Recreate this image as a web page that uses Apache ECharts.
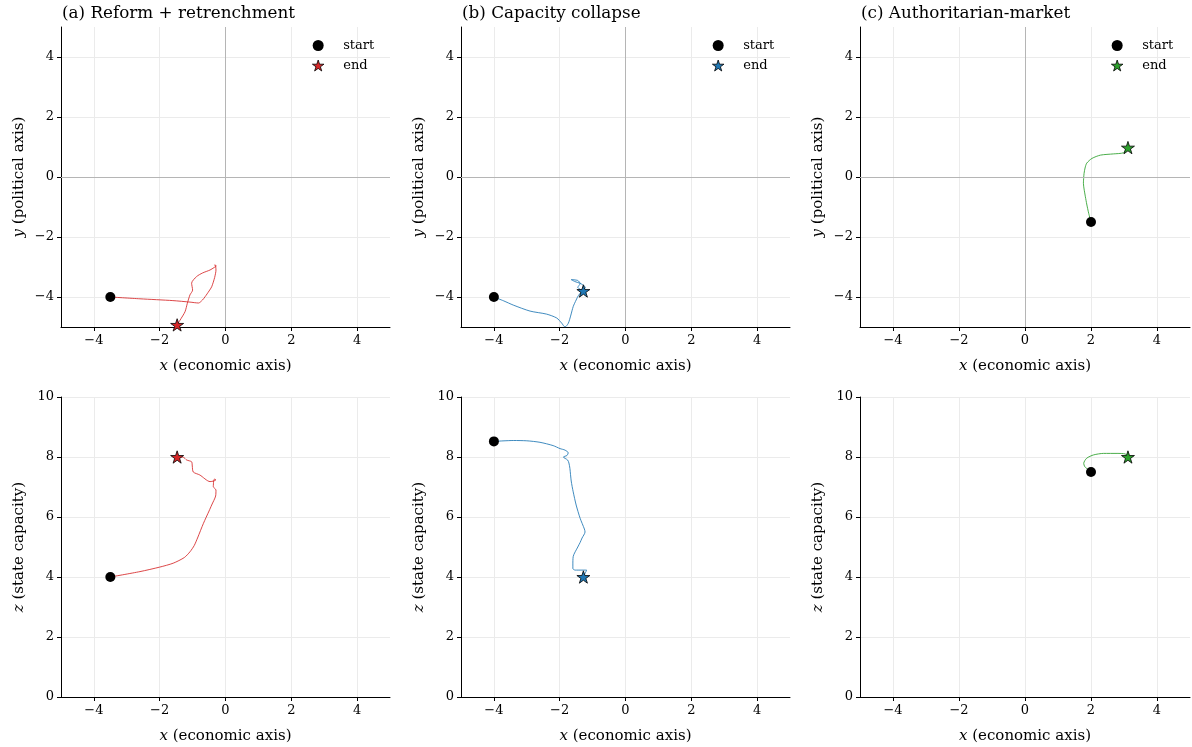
<!DOCTYPE html>
<html>
<head>
<meta charset="utf-8">
<script src="https://cdn.jsdelivr.net/npm/echarts@6/dist/echarts.min.js"></script>
<style>html,body{margin:0;padding:0;background:#fff}#c{width:1192px;height:747px}</style>
</head>
<body>
<div id="c"></div>
<script>
// ---------- data ----------
const panelTitles = ['(a) Reform + retrenchment', '(b) Capacity collapse', '(c) Authoritarian-market'];
const scenarioColors = ['#d62728', '#1f77b4', '#2ca02c'];
const xTicks = [-4, -2, 0, 2, 4];
const yTicks = [-4, -2, 0, 2, 4];
const zTicks = [0, 2, 4, 6, 8, 10];

// (a) Reform + retrenchment : [x, y] and [x, z]
const reformXY = [[-3.50,-4.00],[-2.60,-4.06],[-1.60,-4.12],[-1.08,-4.17],[-0.82,-4.20],[-0.70,-4.10],[-0.62,-3.99],[-0.50,-3.80],[-0.42,-3.66],[-0.33,-3.35],[-0.29,-3.10],[-0.30,-2.98],[-0.33,-2.93],[-0.28,-2.96],[-0.35,-3.02],[-0.47,-3.10],[-0.70,-3.20],[-0.88,-3.32],[-1.03,-3.54],[-1.00,-3.77],[-1.08,-3.93],[-1.16,-4.21],[-1.23,-4.49],[-1.38,-4.77],[-1.47,-4.93]];
const reformXZ = [[-3.50,4.00],[-2.60,4.18],[-2.00,4.33],[-1.59,4.46],[-1.25,4.65],[-1.08,4.84],[-0.95,5.05],[-0.85,5.30],[-0.67,5.79],[-0.50,6.20],[-0.42,6.40],[-0.30,6.70],[-0.29,6.90],[-0.37,7.01],[-0.36,7.20],[-0.34,7.26],[-0.29,7.24],[-0.36,7.20],[-0.47,7.18],[-0.78,7.40],[-0.98,7.50],[-1.01,7.70],[-1.03,7.84],[-1.18,7.90],[-1.28,7.99],[-1.47,8.00]];
// (b) Capacity collapse
const collapseXY = [[-4.00,-4.00],[-3.70,-4.13],[-3.41,-4.27],[-2.90,-4.47],[-2.40,-4.57],[-2.09,-4.70],[-1.94,-4.87],[-1.84,-5.00],[-1.74,-4.88],[-1.66,-4.60],[-1.59,-4.32],[-1.50,-4.10],[-1.43,-3.95],[-1.32,-3.80],[-1.22,-3.68],[-1.35,-3.56],[-1.55,-3.48],[-1.65,-3.42],[-1.45,-3.45],[-1.38,-3.55],[-1.45,-3.68],[-1.28,-3.80]];
const collapseXZ = [[-4.00,8.52],[-3.41,8.55],[-3.00,8.54],[-2.60,8.49],[-2.20,8.38],[-1.99,8.28],[-1.84,8.23],[-1.74,8.14],[-1.78,8.05],[-1.89,8.00],[-1.76,7.90],[-1.72,7.80],[-1.69,7.62],[-1.65,7.20],[-1.59,6.84],[-1.50,6.40],[-1.38,5.96],[-1.25,5.60],[-1.23,5.50],[-1.32,5.30],[-1.38,5.15],[-1.45,5.00],[-1.59,4.68],[-1.60,4.40],[-1.60,4.28],[-1.53,4.23],[-1.18,4.23],[-1.28,4.00]];
// (c) Authoritarian-market
const authXY = [[2.00,-1.50],[1.93,-1.21],[1.87,-0.90],[1.83,-0.66],[1.79,-0.40],[1.77,-0.21],[1.78,0.00],[1.79,0.12],[1.82,0.30],[1.87,0.46],[2.03,0.62],[2.29,0.73],[2.68,0.77],[2.99,0.81],[3.12,0.98]];
const authXZ = [[2.00,7.50],[1.81,7.68],[1.78,7.79],[1.87,7.96],[2.08,8.07],[2.38,8.12],[2.79,8.12],[3.04,8.10],[3.12,8.00]];

const topPaths = [reformXY, collapseXY, authXY];
const bottomPaths = [reformXZ, collapseXZ, authXZ];

// ---------- layout / style ----------
const FONT = 'DejaVu Serif';
const STAR = 'path://M0,-100L22.45,-30.9L95.1,-30.9L36.3,11.8L58.8,80.9L0,38.2L-58.8,80.9L-36.3,11.8L-95.1,-30.9L-22.45,-30.9Z';
const colLeft = [61, 461, 860];
const colWidth = [329, 329, 330];
const rowTop = [27, 397];
const rowHeight = 300;
const fmt = v => (v < 0 ? '\u2212' + Math.abs(v) : String(v));

const grids = [], xAxes = [], yAxes = [], series = [], titles = [], legends = [];

function axisCommon(ticks) {
  return {
    axisLine: { show: true, onZero: false, lineStyle: { color: '#000', width: 1 } },
    axisTick: { show: true, inside: false, length: 4, customValues: ticks, lineStyle: { color: '#000', width: 1 } },
    axisLabel: { customValues: ticks, formatter: fmt, color: '#000', fontFamily: FONT, fontSize: 13, margin: 7 },
    splitLine: { show: true, lineStyle: { color: '#ebebeb', width: 1 } },
    nameTextStyle: { color: '#000', fontFamily: FONT, fontSize: 15,
      rich: { i: { fontStyle: 'italic', fontFamily: FONT, fontSize: 15, color: '#000' }, n: { fontFamily: FONT, fontSize: 15, color: '#000' } } }
  };
}

for (let r = 0; r < 2; r++) {
  for (let c = 0; c < 3; c++) {
    const gi = r * 3 + c;
    grids.push({ left: colLeft[c], top: rowTop[r], width: colWidth[c], height: rowHeight, containLabel: false });
    xAxes.push(Object.assign(axisCommon(xTicks), {
      type: 'value', gridIndex: gi, min: -5, max: 5, interval: 1,
      name: '{i|x}{n| (economic axis)}', nameLocation: 'middle', nameGap: 32
    }));
    const isTop = r === 0;
    yAxes.push(Object.assign(axisCommon(isTop ? yTicks : zTicks), {
      type: 'value', gridIndex: gi, min: isTop ? -5 : 0, max: isTop ? 5 : 10, interval: isTop ? 1 : 2,
      name: isTop ? '{i|y}{n| (political axis)}' : '{i|z}{n| (state capacity)}',
      nameLocation: 'middle', nameGap: 34
    }));
    const path = isTop ? topPaths[c] : bottomPaths[c];
    const col = scenarioColors[c];
    if (isTop) {
      series.push({
        type: 'line', xAxisIndex: gi, yAxisIndex: gi, data: [], z: 1, silent: true,
        markLine: { silent: true, symbol: 'none', label: { show: false },
          lineStyle: { color: '#b5b5b5', width: 1, type: 'solid' },
          data: [{ xAxis: 0 }, { yAxis: 0 }] }
      });
    }
    series.push({
      type: 'line', name: 'path', xAxisIndex: gi, yAxisIndex: gi, data: path,
      showSymbol: false, smooth: 0.25, z: 2, silent: true,
      lineStyle: { color: col, width: 1, opacity: 0.85 }
    });
    series.push({
      type: 'scatter', name: isTop ? 'start' : 'start_z', xAxisIndex: gi, yAxisIndex: gi,
      data: [path[0]], symbol: 'circle', symbolSize: 10, z: 3,
      itemStyle: { color: '#000', borderWidth: 0, opacity: 1 }
    });
    series.push({
      type: 'scatter', name: isTop ? 'end' : 'end_z', xAxisIndex: gi, yAxisIndex: gi,
      data: [path[path.length - 1]], symbol: STAR, symbolSize: 13, symbolKeepAspect: true, z: 3,
      itemStyle: { color: col, borderColor: '#000', borderWidth: 0.8, opacity: 1 }
    });
    if (isTop) {
      titles.push({ text: panelTitles[c], left: colLeft[c] - 4, top: 0,
        textStyle: { fontFamily: FONT, fontSize: 16.8, fontWeight: 'normal', color: '#000' } });
      legends.push({
        orient: 'vertical', left: colLeft[c] + 246, top: 34, itemWidth: 40, itemHeight: 11, itemGap: 7,
        selectedMode: false, symbolKeepAspect: true,
        textStyle: { fontFamily: FONT, fontSize: 13, color: '#000' },
        data: [
          { name: 'start', icon: 'circle', itemStyle: { color: '#000', borderWidth: 0, opacity: 1 } },
          { name: 'end', icon: STAR, itemStyle: { color: col, borderColor: '#000', borderWidth: 0.8, opacity: 1 } }
        ]
      });
    }
  }
}

const chart = echarts.init(document.getElementById('c'), null, { renderer: 'canvas' });
chart.setOption({
  animation: false,
  backgroundColor: '#fff',
  title: titles,
  legend: legends,
  grid: grids,
  xAxis: xAxes,
  yAxis: yAxes,
  series: series
});
</script>
</body>
</html>
